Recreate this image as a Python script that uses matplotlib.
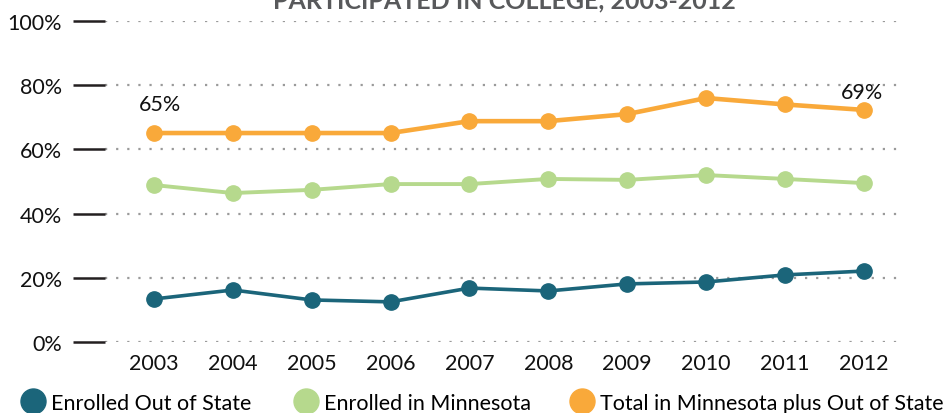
import matplotlib.pyplot as plt
from matplotlib.lines import Line2D

plt.rcParams['font.family'] = ['Lato', 'DejaVu Sans']

years = [2003, 2004, 2005, 2006, 2007, 2008, 2009, 2010, 2011, 2012]
out_of_state = [13.4, 16.2, 13.1, 12.5, 16.8, 15.9, 18.1, 18.7, 20.9, 22.1]
in_minnesota = [48.9, 46.4, 47.4, 49.2, 49.2, 50.8, 50.5, 52.0, 50.8, 49.5]
total = [65.1, 65.1, 65.1, 65.1, 68.8, 68.8, 71.0, 76.0, 74.0, 72.3]
y_ticks = [0, 20, 40, 60, 80, 100]
series_names = ['Enrolled Out of State', 'Enrolled in Minnesota',
                'Total in Minnesota plus Out of State']
colors = ['#1b657a', '#b6d98d', '#f9a93a']

fig = plt.figure(figsize=(9.49, 4.14), dpi=100)
ax = fig.add_axes([105 / 949, 1 - 343 / 414, 800 / 949, 321 / 414])

ax.plot(years, out_of_state, color=colors[0], lw=2.6, marker='o', ms=11, zorder=3)
ax.plot(years, in_minnesota, color=colors[1], lw=2.8, marker='o', ms=11, zorder=3)
ax.plot(years, total, color=colors[2], lw=3.3, marker='o', ms=11, zorder=3)

ax.text(years[0] + 0.08, 74.2, '65%', ha='center', va='center', fontsize=15.5, color='#111111')
ax.text(years[-1] - 0.02, 78.0, '69%', ha='center', va='center', fontsize=15.5, color='#111111')

ax.set_xlim(2002.38, 2012.52)
ax.set_ylim(0, 100)
ax.set_xticks(years)
ax.set_xticklabels([str(y) for y in years])
ax.set_yticks(y_ticks)
ax.set_yticklabels([f'{v}%' for v in y_ticks])
ax.tick_params(axis='x', length=0, pad=8, labelsize=15.5, labelcolor='#111111')
ax.tick_params(axis='y', length=23, width=1.8, color='#231f20', pad=8,
               labelsize=15.5, labelcolor='#111111')
for s in ax.spines.values():
    s.set_visible(False)
ax.yaxis.grid(True, color='#9a9a9a', linestyle=(0, (1, 4)), linewidth=1.6)
ax.set_axisbelow(True)

fig.text(0.532, 1 - 8 / 414, 'PARTICIPATED IN COLLEGE, 2003-2012', ha='center',
         va='baseline', fontsize=18, fontweight='bold', color='#58595b')

# one legend per entry so each sits where the reference puts it
legend_x = [21, 294, 570]
for name, c, x0 in zip(series_names, colors, legend_x):
    h = Line2D([], [], linestyle='none', marker='o', ms=18, color=c)
    leg = fig.legend([h], [name], loc='center left',
                     bbox_to_anchor=(x0 / 949, 1 - 404 / 414), frameon=False,
                     fontsize=15.5, handletextpad=0.3, handlelength=1.1,
                     borderpad=0, borderaxespad=0)

fig.savefig('out.png', dpi=100)
